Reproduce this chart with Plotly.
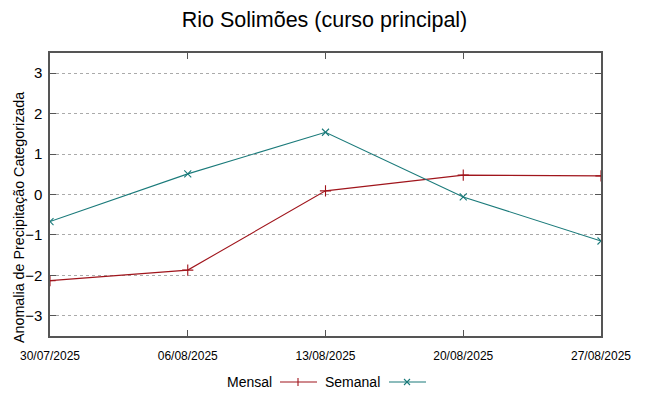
import plotly.graph_objects as go

datas = ["30/07/2025", "06/08/2025", "13/08/2025", "20/08/2025", "27/08/2025"]
mensal = [-2.13, -1.87, 0.09, 0.48, 0.46]
semanal = [-0.67, 0.51, 1.54, -0.06, -1.15]
yticks = [-3, -2, -1, 0, 1, 2, 3]

RED = "#a0151c"
TEAL = "#1a7a7a"
FONT = "Liberation Sans"

L, R, T, B = 50, 48, 53, 60
W, H = 649, 396
PW, PH = W - L - R, H - T - B

fig = go.Figure()
fig.add_trace(go.Scatter(x=datas, y=mensal, mode="lines+markers", name="Mensal",
                         line=dict(color=RED, width=1.1),
                         marker=dict(symbol="cross-thin", size=8, line=dict(color=RED, width=1.1))))
fig.add_trace(go.Scatter(x=datas, y=semanal, mode="lines+markers", name="Semanal",
                         line=dict(color=TEAL, width=1.1),
                         marker=dict(symbol="x-thin", size=7, line=dict(color=TEAL, width=1.1))))

fig.update_layout(
    width=W, height=H,
    margin=dict(l=L, r=R, t=T, b=B),
    paper_bgcolor="white", plot_bgcolor="white",
    showlegend=False,
    title=dict(text="Rio Solimões (curso principal)", x=0.5, xanchor="center", y=1 - 19 / H, yanchor="middle",
               font=dict(family=FONT, size=21.5, color="#000")),
    font=dict(family=FONT, color="#000"),
)
fig.update_xaxes(type="category", range=[0, 4], showgrid=False, zeroline=False, automargin=False,
                 showline=True, linecolor="#555", linewidth=1.5, mirror="allticks",
                 ticks="inside", ticklen=6, tickcolor="#555", ticklabelstandoff=8,
                 tickfont=dict(family=FONT, size=12))
fig.update_yaxes(range=[-3.5, 3.5], tickvals=yticks, showgrid=True, gridcolor="#aaa", griddash="dot",
                 gridwidth=1, zeroline=False, automargin=False,
                 showline=True, linecolor="#555", linewidth=1.5, mirror="allticks",
                 ticks="inside", ticklen=6, tickcolor="#555", ticklabelstandoff=3,
                 tickfont=dict(size=15))


def px(x):
    return (x - L) / PW


def py(y):
    return (H - B - y) / PH


# y-axis title
fig.add_annotation(x=px(19), y=py(218), xref="paper", yref="paper",
                   text="Anomalia de Precipitação Categorizada", textangle=-90, showarrow=False,
                   xanchor="center", yanchor="middle", font=dict(size=14.3))

# manual legend (text left of sample, as in the original)
ly = 382
fig.add_annotation(x=px(274), y=py(ly), xref="paper", yref="paper", text="Mensal", showarrow=False,
                   xanchor="right", yanchor="middle", font=dict(size=14))
fig.add_annotation(x=px(382), y=py(ly), xref="paper", yref="paper", text="Semanal", showarrow=False,
                   xanchor="right", yanchor="middle", font=dict(size=14))
shapes = [
    dict(type="line", x0=px(280), x1=px(317), y0=py(ly), y1=py(ly), line=dict(color=RED, width=1.1)),
    dict(type="line", x0=px(298), x1=px(298), y0=py(ly - 4), y1=py(ly + 4), line=dict(color=RED, width=1.1)),
    dict(type="line", x0=px(389), x1=px(426), y0=py(ly), y1=py(ly), line=dict(color=TEAL, width=1.1)),
    dict(type="line", x0=px(404), x1=px(410), y0=py(ly - 3), y1=py(ly + 3), line=dict(color=TEAL, width=1.1)),
    dict(type="line", x0=px(404), x1=px(410), y0=py(ly + 3), y1=py(ly - 3), line=dict(color=TEAL, width=1.1)),
]
for s in shapes:
    s.update(xref="paper", yref="paper")
    fig.add_shape(**s)

fig.write_html("out.html", config={"displayModeBar": False},
               post_script="document.body.style.margin='0';document.body.style.overflow='hidden';")
